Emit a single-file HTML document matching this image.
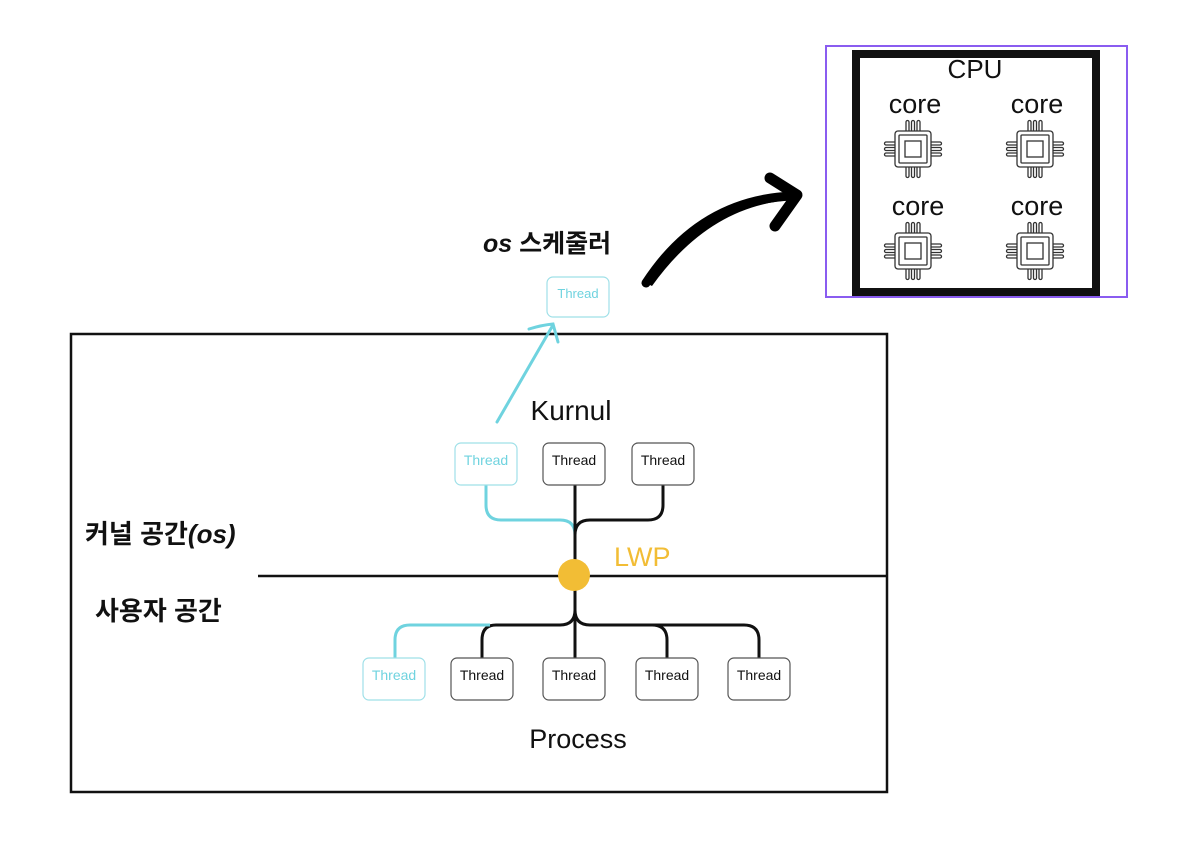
<!DOCTYPE html>
<html><head><meta charset="utf-8"><style>
html,body{margin:0;padding:0;background:#fff;width:1179px;height:842px;overflow:hidden}
svg{display:block}
text{font-family:"Liberation Sans","Noto Sans CJK KR",sans-serif}
</style></head><body>
<svg width="1179" height="842" viewBox="0 0 1179 842" xmlns="http://www.w3.org/2000/svg">
<defs>
<g id="chip" fill="none" stroke="#333" stroke-width="1.3">
<rect x="-18" y="-18" width="36" height="36" rx="3"/>
<rect x="-14" y="-14" width="28" height="28" rx="1"/>
<rect x="-8" y="-8" width="16" height="16"/>
<path d="M-7,-18V-27a1.5,1.5 0 0 1 3,0V-18M-1.5,-18V-27a1.5,1.5 0 0 1 3,0V-18M4,-18V-27a1.5,1.5 0 0 1 3,0V-18"/>
<path d="M-7,18V27a1.5,1.5 0 0 0 3,0V18M-1.5,18V27a1.5,1.5 0 0 0 3,0V18M4,18V27a1.5,1.5 0 0 0 3,0V18"/>
<path d="M-18,-7H-27a1.5,1.5 0 0 0 0,3H-18M-18,-1.5H-27a1.5,1.5 0 0 0 0,3H-18M-18,4H-27a1.5,1.5 0 0 0 0,3H-18"/>
<path d="M18,-7H27a1.5,1.5 0 0 1 0,3H18M18,-1.5H27a1.5,1.5 0 0 1 0,3H18M18,4H27a1.5,1.5 0 0 1 0,3H18"/>
</g>
</defs>
<rect x="71" y="334" width="816" height="458" fill="none" stroke="#111" stroke-width="2.5"/>
<line x1="258" y1="576" x2="887" y2="576" stroke="#111" stroke-width="2.5"/>
<text x="85" y="543" font-size="26" font-weight="bold" fill="#111">커널 공간<tspan font-style="italic">(os)</tspan></text>
<text x="95" y="620" font-size="26" font-weight="bold" fill="#111">사용자 공간</text>
<text x="571" y="420" font-size="28" text-anchor="middle" fill="#111">Kurnul</text>
<text x="578" y="748" font-size="27" text-anchor="middle" fill="#111">Process</text>
<path d="M486,485V505Q486,520 501,520H560Q575,520 575,535V560" fill="none" stroke="#6fd3df" stroke-width="3"/>
<path d="M575,485V560" fill="none" stroke="#111" stroke-width="3"/>
<path d="M663,485V505Q663,520 648,520H590Q575,520 575,535" fill="none" stroke="#111" stroke-width="3"/>
<path d="M575,590V658" fill="none" stroke="#111" stroke-width="3"/>
<path d="M575,595V610Q575,625 560,625H496Q482,625 482,640V658" fill="none" stroke="#111" stroke-width="3"/>
<path d="M490,625H410Q395,625 395,640V658" fill="none" stroke="#6fd3df" stroke-width="3"/>
<path d="M575,610Q575,625 590,625H652Q667,625 667,640V658" fill="none" stroke="#111" stroke-width="3"/>
<path d="M650,625H744Q759,625 759,640V658" fill="none" stroke="#111" stroke-width="3"/>
<circle cx="574" cy="575" r="16" fill="#f2bd35"/>
<text x="614" y="566" font-size="27" fill="#f2bd35">LWP</text>
<g font-size="14" text-anchor="middle">
<rect x="455" y="443" width="62" height="42" rx="6" fill="#fff" stroke="#9fe0e8" stroke-width="1.2"/><text x="486" y="465" fill="#6fd3df">Thread</text>
<rect x="543" y="443" width="62" height="42" rx="6" fill="#fff" stroke="#555" stroke-width="1.2"/><text x="574" y="465" fill="#111">Thread</text>
<rect x="632" y="443" width="62" height="42" rx="6" fill="#fff" stroke="#555" stroke-width="1.2"/><text x="663" y="465" fill="#111">Thread</text>
<rect x="363" y="658" width="62" height="42" rx="6" fill="#fff" stroke="#9fe0e8" stroke-width="1.2"/><text x="394" y="680" fill="#6fd3df">Thread</text>
<rect x="451" y="658" width="62" height="42" rx="6" fill="#fff" stroke="#555" stroke-width="1.2"/><text x="482" y="680" fill="#111">Thread</text>
<rect x="543" y="658" width="62" height="42" rx="6" fill="#fff" stroke="#555" stroke-width="1.2"/><text x="574" y="680" fill="#111">Thread</text>
<rect x="636" y="658" width="62" height="42" rx="6" fill="#fff" stroke="#555" stroke-width="1.2"/><text x="667" y="680" fill="#111">Thread</text>
<rect x="728" y="658" width="62" height="42" rx="6" fill="#fff" stroke="#555" stroke-width="1.2"/><text x="759" y="680" fill="#111">Thread</text>
<rect x="547" y="277" width="62" height="40" rx="6" fill="#fff" stroke="#9fe0e8" stroke-width="1.2"/><text x="578" y="298" font-size="13" fill="#6fd3df">Thread</text>
</g>
<text x="483" y="252" font-size="25" font-weight="bold" fill="#111"><tspan font-style="italic">os</tspan> 스케줄러</text>
<path d="M497,422L553,325M529,329Q542,325 553,324L558,342" fill="none" stroke="#6fd3df" stroke-width="3" stroke-linecap="round"/>
<path d="M646,283Q700,200 790,192L792,200Q710,205 652,286Z" fill="#000"/>
<path d="M646,283Q700,200 792,196" fill="none" stroke="#000" stroke-width="9" stroke-linecap="round"/>
<path d="M770,178L797,195L775,226" fill="none" stroke="#000" stroke-width="11" stroke-linecap="round" stroke-linejoin="round"/>
<rect x="826" y="46" width="301" height="251" fill="none" stroke="#8a5cf0" stroke-width="2"/>
<rect x="856" y="54" width="240" height="238" fill="#fff" stroke="#111" stroke-width="8"/>
<text x="975" y="78" font-size="26" text-anchor="middle" fill="#111">CPU</text>
<g font-size="27" text-anchor="middle" fill="#111">
<text x="915" y="113">core</text><text x="1037" y="113">core</text>
<text x="918" y="215">core</text><text x="1037" y="215">core</text>
</g>
<use href="#chip" x="913" y="149"/>
<use href="#chip" x="1035" y="149"/>
<use href="#chip" x="913" y="251"/>
<use href="#chip" x="1035" y="251"/>
</svg>
</body></html>
